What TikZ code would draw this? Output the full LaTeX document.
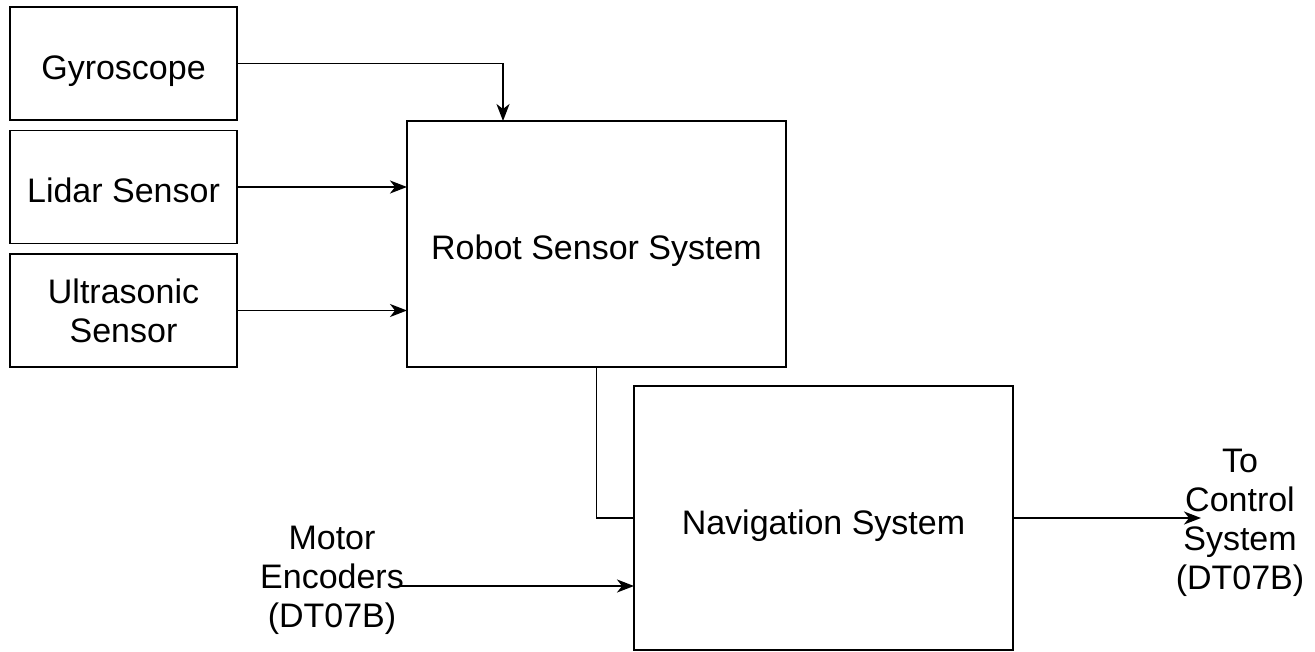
\documentclass[tikz,border=0pt]{standalone}
\usepackage{fontspec}
\setmainfont{Liberation Sans}
\usetikzlibrary{arrows.meta,calc}
\begin{document}
\begin{tikzpicture}[x=1pt,y=-1pt,
  box/.style={draw=black,line width=1.8pt,fill=white,inner sep=0pt,outer sep=0pt,align=center,font=\fontsize{34}{39}\selectfont},
  oneline/.style={text height=34pt,text depth=2pt},
  lbl/.style={inner sep=0pt,outer sep=0pt,align=center,font=\fontsize{34}{39}\selectfont},
  conn/.style={draw=black,line width=1.8pt},
  arr/.style={conn,-{Stealth[length=17pt,width=13pt,inset=5pt]}}]
\useasboundingbox (0,0) rectangle (1315,652);
\node[box,oneline,minimum width=227pt,minimum height=113pt] (gyro) at (123.5,63.5) {Gyroscope};
\node[box,oneline,minimum width=227pt,minimum height=113pt] (lidar) at (123.5,187) {Lidar Sensor};
\node[box,minimum width=227pt,minimum height=113pt] (ultra) at (123.5,310.5) {Ultrasonic\\Sensor};
\node[box,oneline,minimum width=379pt,minimum height=246pt] (robot) at (596.5,244) {Robot Sensor System};
\node[box,oneline,minimum width=379pt,minimum height=264pt] (nav) at (823.5,518) {Navigation System};
\node[lbl] (motor) at (332,580) {Motor\\Encoders\\(DT07B)};
\node[lbl] (ctrl) at (1240,523) {To\\Control\\System\\(DT07B)};
\coordinate (gyroin) at ($(robot.north west)+(96,0)$);
\coordinate (mstart) at (400,586);
\coordinate (outend) at (1201,518);
\draw[arr] (gyro.east) -| (gyroin);
\draw[arr] (lidar.east) -- (lidar.east -| robot.west);
\draw[arr] (ultra.east) -- (ultra.east -| robot.west);
\draw[conn] (robot.south) |- (nav.west);
\draw[arr] (mstart) -- (mstart -| nav.west);
\draw[arr] (nav.east) -- (outend);
\end{tikzpicture}
\end{document}
